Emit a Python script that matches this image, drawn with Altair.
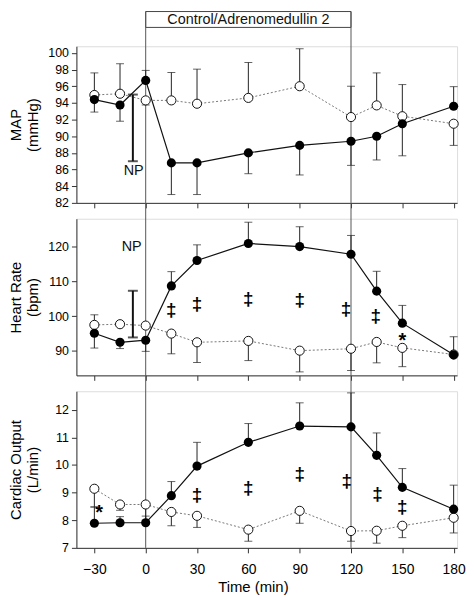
import altair as alt
import pandas as pd

FONT = "Liberation Sans"

# ---------------- data ----------------
time = [-30, -15, 0, 15, 30, 60, 90, 120, 135, 150, 180]

# MAP (mmHg)
map_am2 = [94.4, 93.75, 96.7, 86.8, 86.8, 88.0, 88.9, 89.4, 90.0, 91.5, 93.6]
map_am2_err = [92.9, 91.8, 97.9, 83.0, 83.0, 85.5, 85.35, 86.5, 87.15, 87.65, 95.95]
map_ctl = [94.95, 95.1, 94.3, 94.3, 93.9, 94.6, 96.0, 92.3, 93.7, 92.4, 91.5]
map_ctl_err = [97.6, 98.7, 93.75, 97.65, 98.05, 98.85, 100.5, 96.0, 97.6, 96.2, 88.9]

# Heart rate (bpm)
hr_am2 = [95.1, 92.5, 93.1, 108.7, 116.0, 120.9, 120.0, 117.8, 107.2, 98.0, 88.9]
hr_am2_err = [90.85, 90.7, 89.9, 112.8, 120.5, 127.0, 125.7, 123.2, 112.9, 103.1, 94.1]
hr_ctl = [97.5, 97.7, 97.3, 95.0, 92.5, 92.9, 90.1, 90.65, 92.6, 90.9, 89.0]
hr_ctl_err = [100.4, 98.4, 97.8, 89.2, 86.7, 87.25, 84.0, 84.4, 86.6, 85.5, 89.0]

# Cardiac output (L/min)
co_am2 = [7.89, 7.91, 7.91, 8.89, 9.96, 10.82, 11.41, 11.38, 10.35, 9.19, 8.4]
co_am2_err = [8.48, 8.13, 8.15, 9.4, 10.82, 11.5, 12.25, 12.61, 11.16, 9.87, 9.27]
co_ctl = [9.14, 8.57, 8.57, 8.3, 8.16, 7.66, 8.34, 7.61, 7.62, 7.8, 8.09]
co_ctl_err = [8.48, 8.36, 8.0, 7.8, 7.74, 7.24, 7.89, 7.24, 7.17, 7.37, 7.54]

# significance marks
hr_dagger_t = [15, 30, 60, 90, 117, 134.5]
hr_dagger_v = [101.7, 103.5, 105.0, 104.5, 102.0, 99.9]
hr_star_t = [150]
hr_star_v = [94.6]
co_dagger_t = [30, 60, 90, 117.5, 135.5, 150]
co_dagger_v = [8.92, 9.15, 9.68, 9.42, 8.96, 8.48]
co_star_t = [-27.2]
co_star_v = [8.46]

# NP bars
np_t = -7.5
map_np = [87.0, 95.0]
map_np_label = [-7.0, 85.8]
hr_np = [93.9, 107.3]
hr_np_label = [-8.2, 120.0]

window = [0, 120]
window_label = "Control/Adrenomedullin 2"

# ---------------- layout ----------------
W, H = 384, 158
XDOM = [-40.5, 182]
xticks = [-30, 0, 30, 60, 90, 120, 150, 180]
AXC = "#333333"


def xenc(field, show):
    return alt.X(
        f"{field}:Q",
        scale=alt.Scale(domain=XDOM, nice=False, zero=False),
        axis=alt.Axis(
            values=xticks, labels=show, title="Time (min)" if show else None,
            grid=False, tickSize=5, domainColor=AXC, tickColor=AXC,
            labelFontSize=14, labelColor="black", labelPadding=10,
            titleFontSize=15, titleFontWeight="normal", titleColor="black",
            titlePadding=3, titleX=W / 2 - 14, labelFont=FONT, titleFont=FONT,
        ),
    )


def yenc(field, domain, ticks, title):
    return alt.Y(
        f"{field}:Q",
        scale=alt.Scale(domain=domain, nice=False, zero=False),
        axis=alt.Axis(
            values=ticks, title=title, grid=False, tickSize=5,
            domainColor=AXC, tickColor=AXC, labelFontSize=12.5,
            labelColor="black", labelPadding=3, titleFontSize=15,
            titleFontWeight="normal", titleColor="black", titlePadding=3,
            titleLineHeight=17, minExtent=33, maxExtent=33,
            labelFont=FONT, titleFont=FONT,
        ),
    )


def panel(am2, am2_err, ctl, ctl_err, domain, ticks, title, show_x,
          rule_top, extras):
    df = pd.DataFrame({"t": time, "am2": am2, "am2_err": am2_err,
                       "ctl": ctl, "ctl_err": ctl_err})
    X = xenc("t", show_x)
    Y = lambda f: yenc(f, domain, ticks, title)
    base = alt.Chart(df)
    wdf = pd.DataFrame({"t": window})
    layers = [
        alt.Chart(wdf).mark_rule(color="#555555", strokeWidth=1).encode(
            x=X, y=alt.value(rule_top), y2=alt.value(H)),
        base.mark_rule(color="#222222", strokeWidth=1).encode(
            x=X, y=Y("ctl"), y2="ctl_err:Q"),
        base.mark_tick(orient="horizontal", size=8, thickness=1,
                       color="#222222").encode(x=X, y=Y("ctl_err")),
        base.mark_rule(color="#222222", strokeWidth=1).encode(
            x=X, y=Y("am2"), y2="am2_err:Q"),
        base.mark_tick(orient="horizontal", size=8, thickness=1,
                       color="#222222").encode(x=X, y=Y("am2_err")),
        base.mark_line(color="#777777", strokeWidth=1,
                       strokeDash=[2, 2]).encode(x=X, y=Y("ctl")),
        base.mark_point(filled=True, fill="white", stroke="#111111",
                        strokeWidth=1, size=85, opacity=1).encode(
            x=X, y=Y("ctl")),
        base.mark_line(color="#111111", strokeWidth=1.2).encode(
            x=X, y=Y("am2")),
        base.mark_point(filled=True, color="#000000", size=85,
                        opacity=1).encode(x=X, y=Y("am2")),
    ]
    for kind, d in extras:
        if kind == "dagger":
            layers.append(alt.Chart(pd.DataFrame(d)).mark_text(
                text="‡", fontSize=19, fontWeight="bold", font=FONT,
                color="#000000", baseline="middle").encode(x=X, y=Y("v")))
        elif kind == "star":
            layers.append(alt.Chart(pd.DataFrame(d)).mark_text(
                text="*", fontSize=20, fontWeight="bold", font=FONT,
                color="#000000", baseline="middle", dy=6).encode(
                x=X, y=Y("v")))
        elif kind == "np":
            layers.append(alt.Chart(pd.DataFrame(d["bar"])).mark_rule(
                color="#111111", strokeWidth=2).encode(
                x=X, y=Y("lo"), y2="hi:Q"))
            capdf = pd.DataFrame({"t": [d["bar"]["t"][0]] * 2,
                                  "v": [d["bar"]["lo"][0], d["bar"]["hi"][0]]})
            layers.append(alt.Chart(capdf).mark_tick(
                orient="horizontal", size=10, thickness=2,
                color="#111111").encode(x=X, y=Y("v")))
            layers.append(alt.Chart(pd.DataFrame(d["label"])).mark_text(
                text="NP", fontSize=14.5, font=FONT, color="#111111",
                baseline="middle").encode(x=X, y=Y("v")))
        elif kind == "box":
            bdf = pd.DataFrame({"t": [window[0]], "t2": [window[1]],
                                "mid": [(window[0] + window[1]) / 2]})
            layers.insert(0, alt.Chart(bdf).mark_rect(
                fill="white", stroke="#444444", strokeWidth=1).encode(
                x=X, x2="t2:Q", y=alt.value(-35), y2=alt.value(-19)))
            layers.append(alt.Chart(bdf).mark_text(
                text=window_label, fontSize=14.5, font=FONT,
                color="#111111", baseline="middle").encode(
                x=alt.X("mid:Q", scale=alt.Scale(domain=XDOM, nice=False,
                                                 zero=False)),
                y=alt.value(-26.5)))
    return alt.layer(*layers).properties(width=W, height=H)


p1 = panel(map_am2, map_am2_err, map_ctl, map_ctl_err, [82, 100.8],
           list(range(82, 101, 2)), ["MAP", "(mmHg)"], False, -35,
           [("box", None),
            ("np", {"bar": {"t": [np_t], "lo": [map_np[0]], "hi": [map_np[1]]},
                    "label": {"t": [map_np_label[0]], "v": [map_np_label[1]]}})])
p2 = panel(hr_am2, hr_am2_err, hr_ctl, hr_ctl_err, [83, 128],
           [90, 100, 110, 120], ["Heart Rate", "(bpm)"], False, -16,
           [("dagger", {"t": hr_dagger_t, "v": hr_dagger_v}),
            ("star", {"t": hr_star_t, "v": hr_star_v}),
            ("np", {"bar": {"t": [np_t], "lo": [hr_np[0]], "hi": [hr_np[1]]},
                    "label": {"t": [hr_np_label[0]], "v": [hr_np_label[1]]}})])
p3 = panel(co_am2, co_am2_err, co_ctl, co_ctl_err, [7, 12.67],
           [7, 8, 9, 10, 11, 12], ["Cardiac Output", "(L/min)"], True, -16,
           [("dagger", {"t": co_dagger_t, "v": co_dagger_v}),
            ("star", {"t": co_star_t, "v": co_star_v})])

chart = alt.vconcat(p1, p2, p3, spacing=16, bounds="flush").properties(
    padding={"left": 0, "top": 0, "right": 0, "bottom": 0}
).configure_view(stroke=None).configure(font=FONT, background="white")

chart.save("out.html", embed_options={"renderer": "svg", "actions": False})
